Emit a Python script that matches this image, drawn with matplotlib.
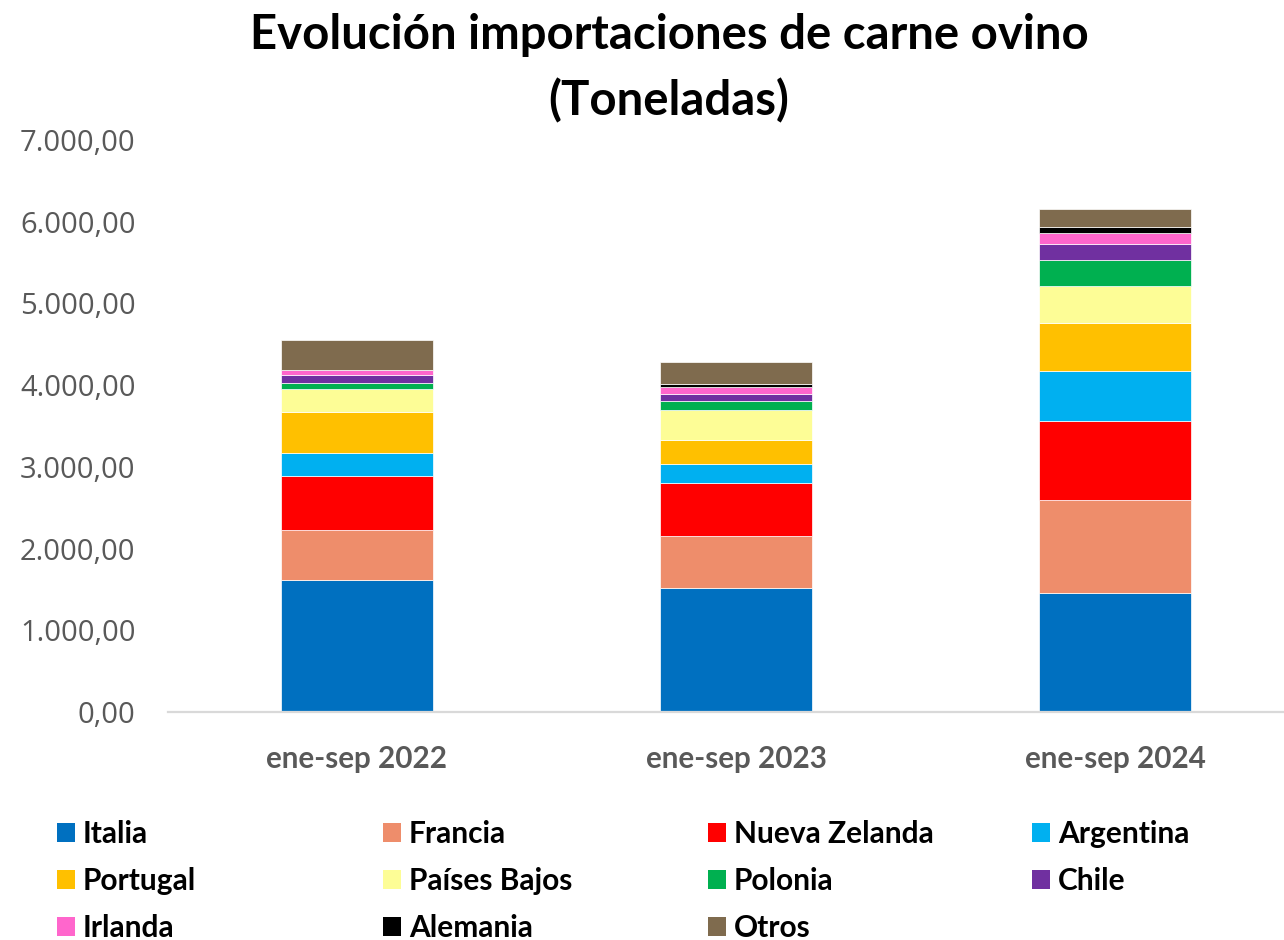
import matplotlib
matplotlib.use("Agg")
import matplotlib.pyplot as plt
from matplotlib.ticker import FuncFormatter, MultipleLocator
from matplotlib.patches import Patch
import numpy as np

categories = ["ene-sep 2022", "ene-sep 2023", "ene-sep 2024"]
countries = ["Italia", "Francia", "Nueva Zelanda", "Argentina", "Portugal",
             "Países Bajos", "Polonia", "Chile", "Irlanda", "Alemania", "Otros"]
italia = [1612, 1521, 1460]
francia = [612, 633, 1134]
nueva_zelanda = [665, 649, 973]
argentina = [278, 236, 602]
portugal = [509, 286, 587]
paises_bajos = [278, 374, 453]
polonia = [70, 110, 322]
chile = [105, 86, 199]
irlanda = [54, 86, 135]
alemania = [5, 29, 66]
otros = [362, 269, 224]
series = [italia, francia, nueva_zelanda, argentina, portugal, paises_bajos,
          polonia, chile, irlanda, alemania, otros]
colors = ["#0070C0", "#EE8D6B", "#FF0000", "#00B0F0", "#FFC000", "#FDFD96",
          "#00B050", "#7030A0", "#FF66CC", "#000000", "#7F6B4E"]

W, H = 1284, 940
fig = plt.figure(figsize=(W / 100, H / 100), dpi=100)
ax_l, ax_r, ax_b, ax_t = 167.5, 1304.5, 712, 140
ax = fig.add_axes([ax_l / W, 1 - ax_b / H, (ax_r - ax_l) / W, (ax_b - ax_t) / H])

x = np.arange(len(categories))
bottom = np.zeros(len(categories))
handles = []
for name, vals, c in zip(countries, series, colors):
    ax.bar(x, vals, width=0.40, bottom=bottom, color=c, edgecolor="white",
           linewidth=0.5, label=name)
    bottom += np.array(vals, dtype=float)
    handles.append(Patch(facecolor=c, edgecolor="none", label=name))

ax.set_xlim(-0.5, 2.5)
ax.set_ylim(0, 7000)
ax.yaxis.set_major_locator(MultipleLocator(1000))

def fmt(v, pos):
    s = f"{v:,.2f}"
    return s.replace(",", "X").replace(".", ",").replace("X", ".")

ax.yaxis.set_major_formatter(FuncFormatter(fmt))
for s in ["top", "right", "left"]:
    ax.spines[s].set_visible(False)
ax.spines["bottom"].set_color("#D9D9D9")
ax.spines["bottom"].set_linewidth(1.6)
ax.tick_params(axis="y", length=0, pad=23, labelsize=21, labelcolor="#595959")
ax.tick_params(axis="x", length=0, pad=24)
for lab in ax.get_yticklabels():
    lab.set_fontfamily("Open Sans")
ax.set_xticks(x)
ax.set_xticklabels(categories, fontfamily="Lato", fontweight="bold",
                   fontsize=21.3, color="#595959")

fig.text(669 / W, 1 - 13 / H, "Evolución importaciones de carne ovino\n(Toneladas)",
         ha="center", va="top", fontfamily="Lato", fontweight="bold",
         fontsize=34, linespacing=1.56)

# Legend: four columns, row-major order
col_x = [57, 383, 708, 1032]
ncol = 4
for ci in range(ncol):
    hs = handles[ci::ncol]
    leg = fig.legend(handles=hs, loc="upper left",
                     bbox_to_anchor=(col_x[ci] / W, 1 - 820 / H),
                     frameon=False, borderpad=0, borderaxespad=0,
                     handlelength=0.6, handleheight=0.6, handletextpad=0.27,
                     labelspacing=0.63,
                     prop={"family": "Lato", "weight": "bold", "size": 21.5})

fig.savefig("out.png", dpi=100)
